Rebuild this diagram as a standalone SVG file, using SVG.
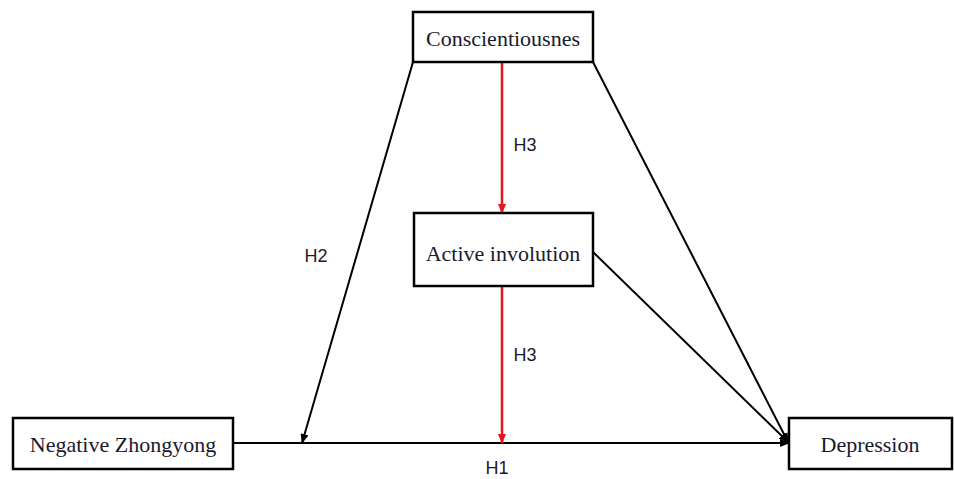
<svg xmlns="http://www.w3.org/2000/svg" width="954" height="479" viewBox="0 0 954 479">
<style>
.box{fill:#fff;stroke:#000;stroke-width:2.5}
.t{font-family:"Liberation Serif",serif;font-size:22px;fill:#1a1a2e;text-anchor:middle;dominant-baseline:central}
.l{font-family:"Liberation Sans",sans-serif;font-size:18px;fill:#1a1a2e;text-anchor:middle;dominant-baseline:central}
.k{stroke:#000;stroke-width:2;fill:none}
.r{stroke:#e8141b;stroke-width:2.5;fill:none}
</style>
<defs>
<marker id="ak" markerWidth="10" markerHeight="8" refX="9" refY="4" orient="auto" markerUnits="userSpaceOnUse"><path d="M0,0 L10,4 L0,8 Z" fill="#000"/></marker>
<marker id="ar" markerWidth="10" markerHeight="8" refX="9" refY="4" orient="auto" markerUnits="userSpaceOnUse"><path d="M0,0 L10,4 L0,8 Z" fill="#e8141b"/></marker>
</defs>
<rect width="954" height="479" fill="#fff"/>
<g id="connectors">
<line class="k" x1="233" y1="443" x2="789" y2="443" marker-end="url(#ak)"/>
<line class="k" x1="413" y1="62" x2="302" y2="443" marker-end="url(#ak)"/>
<line class="k" x1="593" y1="62" x2="788" y2="442" marker-end="url(#ak)"/>
<line class="k" x1="593" y1="252" x2="788" y2="442" marker-end="url(#ak)"/>
<line class="r" x1="502" y1="62" x2="502" y2="213" marker-end="url(#ar)"/>
<line class="r" x1="502" y1="286" x2="502" y2="443" marker-end="url(#ar)"/>
<text class="l" x="525" y="145">H3</text>
<text class="l" x="525" y="355">H3</text>
<text class="l" x="316" y="256">H2</text>
<text class="l" x="497" y="468">H1</text>
</g>
<g id="conscientiousness"><rect class="box" x="413" y="12" width="180" height="50"/><text class="t" x="503" y="38">Conscientiousnes</text></g>
<g id="active-involution"><rect class="box" x="414" y="213" width="179" height="73"/><text class="t" x="503" y="253">Active involution</text></g>
<g id="negative-zhongyong"><rect class="box" x="13" y="418" width="220" height="51"/><text class="t" x="123" y="444">Negative Zhongyong</text></g>
<g id="depression"><rect class="box" x="789" y="418" width="163" height="51"/><text class="t" x="870" y="444">Depression</text></g>
</svg>
